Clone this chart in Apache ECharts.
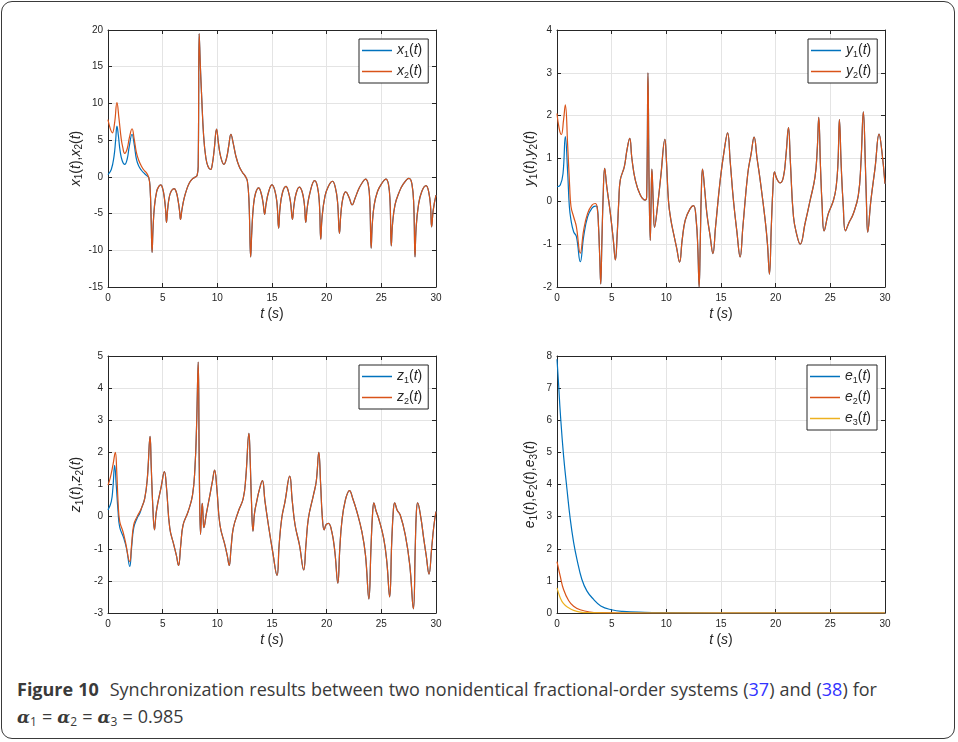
<!DOCTYPE html>
<html>
<head>
<meta charset="utf-8">
<script src="https://cdn.jsdelivr.net/npm/echarts@6/dist/echarts.min.js"></script>
<style>
  html, body { margin: 0; padding: 0; background: #fff; }
  body { width: 958px; height: 742px; position: relative; overflow: hidden; }
  #frame {
    position: absolute; left: 1px; top: 1px; width: 952px; height: 736px;
    border: 1.5px solid #3a3a3a; border-radius: 11px;
  }
  #chart { position: absolute; left: 0; top: 0; width: 958px; height: 665px; }
  #caption {
    position: absolute; left: 17px; top: 676px; width: 920px;
    font-family: "Open Sans", "Noto Sans", sans-serif; font-size: 18px;
    line-height: 27px; color: #3a3a3a; word-spacing: 0.3px;
  }
  #caption b { font-weight: 700; margin-right: 6px; }
  #caption .ref { color: #3333ff; }
  #caption .al { font-style: italic; font-weight: 700; font-family: "DejaVu Serif", serif; font-size: 17px; }
  #caption sub { font-size: 12px; vertical-align: -3px; }
</style>
</head>
<body>
<div id="frame"></div>
<div id="chart"></div>
<div id="caption">
  <b>Figure 10</b> Synchronization results between two nonidentical fractional-order systems (<span class="ref">37</span>) and (<span class="ref">38</span>) for<br>
  <span class="al">α</span><sub>1</sub> = <span class="al">α</span><sub>2</sub> = <span class="al">α</span><sub>3</sub> = 0.985
</div>
<script>
// x1, x2 differ only before ~3.6 s; after that they coincide
const x1Head = [[0,0.3],[0.3,1.0],[0.55,2.8],[0.7,5.0],[0.82,6.9],[0.95,5.6],[1.1,3.6],[1.3,2.2],[1.53,1.7],[1.75,2.4],[1.95,4.2],[2.2,5.8],[2.4,4.4],[2.6,2.4],[2.8,1.5],[3.06,0.9],[3.3,0.5],[3.52,0.2]]
const x2Head = [[0,7.8],[0.2,6.6],[0.4,6.0],[0.6,7.3],[0.82,10.1],[1.0,8.0],[1.2,5.3],[1.35,4.0],[1.53,3.2],[1.75,3.8],[1.95,5.3],[2.2,6.55],[2.4,5.1],[2.6,3.3],[2.8,2.3],[3.06,1.45],[3.3,0.9],[3.52,0.55]]
const xTail = [[3.73,-0.1],[3.85,-1.5],[3.95,-6],[4.03,-10.3],[4.12,-7],[4.25,-4],[4.45,-2],[4.65,-1.3],[4.83,-1.1],[5.0,-1.6],[5.15,-2.8],[5.27,-4.5],[5.35,-6.2],[5.45,-4.5],[5.6,-2.8],[5.8,-1.9],[6.05,-1.6],[6.25,-2.1],[6.42,-3.3],[6.55,-4.7],[6.63,-5.8],[6.75,-4.6],[6.95,-3],[7.2,-1.7],[7.45,-0.8],[7.7,-0.3],[7.95,-0.05],[8.15,0.2],[8.25,1.5],[8.34,19.5],[8.45,15],[8.55,11.5],[8.75,5.5],[8.95,2.6],[9.15,1.4],[9.38,1.0],[9.55,1.8],[9.72,3.8],[9.93,6.5],[10.1,4.6],[10.3,2.8],[10.6,1.7],[10.85,2.6],[11.05,4.3],[11.24,5.8],[11.45,4.6],[11.7,2.8],[12.0,1.4],[12.3,0.6],[12.55,0.1],[12.75,-0.6],[12.9,-3.5],[13.05,-10.9],[13.15,-7.5],[13.3,-4],[13.5,-2.2],[13.78,-1.5],[14.0,-2.2],[14.18,-3.5],[14.33,-5.1],[14.45,-3.8],[14.7,-2],[15.0,-1.1],[15.25,-1.8],[15.45,-3.5],[15.61,-7.0],[15.72,-4.5],[15.95,-2.2],[16.28,-1.3],[16.5,-2],[16.7,-3.5],[16.87,-5.8],[17.0,-4],[17.2,-2.3],[17.5,-1.4],[17.75,-2],[17.95,-3.6],[18.09,-6.2],[18.2,-4.5],[18.45,-2.3],[18.9,-0.5],[19.15,-1.3],[19.33,-3.5],[19.46,-8.5],[19.58,-5.5],[19.85,-2.6],[20.15,-1.3],[20.53,-0.6],[20.8,-1.5],[21.0,-3.5],[21.17,-7.7],[21.3,-5],[21.5,-2.8],[21.75,-2.05],[22.05,-2.8],[22.33,-3.8],[22.6,-2.9],[22.95,-1.6],[23.25,-0.8],[23.55,-0.3],[23.8,-1],[23.95,-3.5],[24.07,-9.7],[24.17,-6.5],[24.35,-3.8],[24.65,-2],[25.0,-1],[25.42,-0.3],[25.65,-1],[25.8,-3.5],[25.91,-9.4],[26.02,-6.5],[26.25,-3.8],[26.6,-2.2],[27.0,-1],[27.53,-0.2],[27.8,-1],[27.97,-4],[28.08,-10.9],[28.18,-7],[28.4,-3.8],[28.7,-2],[29.09,-1.2],[29.35,-2.2],[29.5,-4],[29.6,-6.8],[29.75,-4.5],[30,-2.5]]

const y1Head = [[0,0.34],[0.3,0.38],[0.55,0.65],[0.76,1.51],[0.98,0.65],[1.13,-0.12],[1.28,-0.44],[1.52,-0.71],[1.77,-0.82],[2.13,-1.41],[2.44,-0.82],[2.8,-0.36],[3.2,-0.16],[3.5,-0.11]]
const y2Head = [[0,2.05],[0.2,1.7],[0.4,1.56],[0.6,1.9],[0.76,2.25],[0.98,1.28],[1.16,0.34],[1.28,-0.12],[1.52,-0.36],[1.77,-0.59],[2.13,-1.21],[2.44,-0.67],[2.8,-0.28],[3.2,-0.09],[3.5,-0.05]]
const yTail = [[3.66,-0.12],[3.8,-0.6],[3.92,-1.4],[4.0,-1.93],[4.1,-1.0],[4.22,0.1],[4.36,0.77],[4.55,0.35],[4.88,-0.28],[5.15,-0.9],[5.34,-1.37],[5.5,-0.8],[5.65,0.0],[5.79,0.5],[6.16,0.81],[6.4,1.2],[6.65,1.47],[6.85,1.0],[7.16,0.5],[7.62,0.15],[8.08,0.03],[8.2,0.1],[8.32,3.0],[8.42,0.5],[8.53,-0.91],[8.6,-0.1],[8.68,0.75],[8.8,0.0],[8.92,-0.61],[9.2,-0.1],[9.5,0.6],[9.87,1.45],[10.0,1.0],[10.2,0.0],[10.42,-0.44],[10.66,-0.75],[10.95,-1.1],[11.21,-1.42],[11.45,-0.9],[11.73,-0.44],[12.18,-0.17],[12.49,-0.1],[12.73,-0.44],[12.88,-1.1],[13.0,-2.0],[13.1,-1.0],[13.2,0.2],[13.31,0.75],[13.5,0.3],[13.71,-0.29],[14.0,-0.8],[14.26,-1.22],[14.5,-0.6],[14.93,0.5],[15.3,1.2],[15.6,1.6],[15.85,0.9],[16.14,0.02],[16.45,-0.7],[16.75,-1.3],[17.0,-0.6],[17.45,0.65],[17.75,1.1],[18.03,1.5],[18.3,1.0],[18.58,0.5],[19.04,-0.44],[19.25,-1.0],[19.43,-1.7],[19.6,-0.6],[19.75,0.3],[19.89,0.69],[20.1,0.53],[20.41,0.43],[20.71,0.57],[20.95,1.1],[21.17,1.72],[21.35,0.9],[21.63,-0.36],[21.95,-0.8],[22.24,-1.0],[22.7,-0.5],[23.15,0.02],[23.6,0.57],[23.8,1.2],[23.94,1.96],[24.1,0.8],[24.25,-0.1],[24.43,-0.69],[24.8,-0.3],[25.28,0.02],[25.53,0.33],[25.7,0.9],[25.83,1.91],[26.0,0.8],[26.18,-0.1],[26.38,-0.69],[26.7,-0.5],[27.1,-0.29],[27.56,0.14],[27.8,0.9],[28.02,2.09],[28.2,0.9],[28.3,0.0],[28.42,-0.72],[28.7,0.0],[29.1,0.8],[29.46,1.57],[29.7,1.2],[30,0.41]]

const z1Head = [[0,0.21],[0.3,0.47],[0.45,0.9],[0.61,1.6],[0.75,1.0],[0.92,0.16],[1.07,-0.33],[1.44,-0.67],[1.7,-1.0],[1.99,-1.55],[2.15,-1.0],[2.35,-0.36],[2.66,-0.05],[2.9,0.1]]
const z2Head = [[0,0.98],[0.2,1.2],[0.45,1.6],[0.67,2.0],[0.8,1.4],[0.92,0.47],[1.07,-0.15],[1.37,-0.47],[1.59,-0.78],[1.99,-1.4],[2.15,-0.9],[2.35,-0.26],[2.66,0.0],[2.9,0.15]]
const zTail = [[3.06,0.26],[3.36,0.57],[3.6,1.2],[3.85,2.5],[3.95,1.6],[4.1,0.3],[4.25,-0.41],[4.4,0.1],[4.58,0.47],[4.85,0.9],[5.16,1.4],[5.35,0.9],[5.65,-0.36],[6.02,-0.88],[6.25,-1.2],[6.45,-1.52],[6.65,-0.9],[6.87,-0.26],[7.33,0.16],[7.73,0.67],[7.95,1.5],[8.1,2.8],[8.25,4.81],[8.35,1.5],[8.46,-0.55],[8.54,0.0],[8.62,0.41],[8.7,0.0],[8.77,-0.34],[9.0,0.1],[9.32,0.67],[9.55,1.1],[9.75,1.45],[9.95,0.9],[10.24,-0.26],[10.69,-0.88],[10.9,-1.2],[11.09,-1.52],[11.25,-1.0],[11.46,-0.36],[11.92,0.16],[12.37,0.57],[12.6,1.2],[12.89,2.59],[13.0,1.8],[13.12,0.5],[13.26,-0.45],[13.4,0.1],[13.6,0.47],[13.85,0.85],[14.12,1.12],[14.35,0.5],[14.67,-0.26],[15.06,-1.09],[15.46,-1.83],[15.65,-0.9],[15.89,-0.05],[16.19,0.47],[16.62,1.26],[16.85,0.5],[17.11,-0.26],[17.51,-0.88],[17.9,-1.66],[18.1,-0.9],[18.33,-0.05],[18.79,0.67],[19.05,1.1],[19.28,2.0],[19.45,1.0],[19.6,0.0],[19.77,-0.41],[19.95,-0.25],[20.16,-0.21],[20.47,-0.47],[20.75,-1.1],[21.02,-2.07],[21.2,-1.0],[21.39,-0.15],[21.7,0.5],[22.09,0.81],[22.4,0.55],[22.76,0.16],[23.22,-0.47],[23.55,-1.2],[23.86,-2.56],[24.05,-1.0],[24.2,0.1],[24.32,0.43],[24.5,0.2],[24.75,-0.05],[25.21,-0.67],[25.5,-1.4],[25.76,-2.5],[25.95,-0.8],[26.1,0.2],[26.22,0.43],[26.45,0.2],[26.73,0.05],[27.19,-0.57],[27.6,-1.5],[27.93,-2.87],[28.1,-1.0],[28.2,0.1],[28.32,0.43],[28.6,0.0],[28.87,-0.67],[29.1,-1.2],[29.36,-1.79],[29.6,-1.0],[29.8,-0.3],[30,0.16]]

const e1 = [[0,7.9],[0.15,7.1],[0.3,6.24],[0.6,4.9],[0.91,3.86],[1.21,2.93],[1.52,2.2],[1.82,1.68],[2.27,1.05],[2.73,0.69],[3.33,0.43],[4,0.22],[5,0.1],[6,0.05],[8,0.02],[10,0.01],[15,0],[30,0]]
const e2 = [[0,1.6],[0.3,1.14],[0.6,0.73],[1.06,0.39],[1.52,0.21],[2.12,0.1],[3.03,0.03],[4,0.01],[6,0],[30,0]]
const e3 = [[0,0.78],[0.3,0.47],[0.6,0.29],[1.06,0.16],[1.52,0.08],[2.12,0.03],[3,0.01],[5,0],[30,0]]

const tTicks = [0, 30, 5]
const yRanges = [[-15, 20, 5], [-2, 4, 1], [-3, 5, 1], [0, 8, 1]]

const BLUE = '#0072BD', ORANGE = '#D95319', YELLOW = '#EDB120'
const INK = '#262626'
const FONT = 'Liberation Sans'

const grids = [
  { left: 108, top: 30, width: 328, height: 257 },
  { left: 557, top: 30, width: 328, height: 257 },
  { left: 108, top: 356, width: 328, height: 257 },
  { left: 557, top: 356, width: 328, height: 257 },
]

const rich = {
  i: { fontFamily: FONT, fontStyle: 'italic', fontSize: 14, color: INK, lineHeight: 17 },
  n: { fontFamily: FONT, fontSize: 14, color: INK, lineHeight: 17 },
  s: { fontFamily: FONT, fontSize: 10, color: INK, lineHeight: 10, padding: [7, 0, 0, 0] },
}
const sym = (v, k) => `{i|${v}}{s|${k}}{n|(}{i|t}{n|)}`
const yNames = [
  sym('x', 1) + '{n|,}' + sym('x', 2),
  sym('y', 1) + '{n|,}' + sym('y', 2),
  sym('z', 1) + '{n|,}' + sym('z', 2),
  sym('e', 1) + '{n|,}' + sym('e', 2) + '{n|,}' + sym('e', 3),
]
const nameGaps = [23, 18, 23, 18]

const xAxis = [], yAxis = []
grids.forEach((g, k) => {
  const [ymin, ymax, ystep] = yRanges[k]
  xAxis.push({
    gridIndex: k, type: 'value', min: tTicks[0], max: tTicks[1], interval: tTicks[2],
    name: '{i|t} {n|(}{i|s}{n|)}', nameLocation: 'middle', nameGap: 19,
    nameTextStyle: { rich: { i: { ...rich.i, fontSize: 14 }, n: { ...rich.n, fontSize: 14 } } },
    axisLine: { show: true, onZero: false, lineStyle: { color: INK, width: 1 } },
    axisTick: { show: true, inside: true, length: 4, lineStyle: { color: INK } },
    axisLabel: { fontFamily: FONT, fontSize: 10, color: INK, margin: 6 },
    splitLine: { show: true, lineStyle: { color: '#e4e4e4', width: 1 } },
  })
  xAxis.push({
    gridIndex: k, type: 'value', position: 'top', min: tTicks[0], max: tTicks[1], interval: tTicks[2],
    axisLine: { show: true, onZero: false, lineStyle: { color: INK, width: 1 } },
    axisTick: { show: true, inside: true, length: 4, lineStyle: { color: INK } },
    axisLabel: { show: false }, splitLine: { show: false },
  })
  yAxis.push({
    gridIndex: k, type: 'value', min: ymin, max: ymax, interval: ystep,
    name: yNames[k], nameLocation: 'middle', nameGap: nameGaps[k],
    nameTextStyle: { rich },
    axisLine: { show: true, onZero: false, lineStyle: { color: INK, width: 1 } },
    axisTick: { show: true, inside: true, length: 4, lineStyle: { color: INK } },
    axisLabel: { fontFamily: FONT, fontSize: 10, color: INK, margin: 5 },
    splitLine: { show: true, lineStyle: { color: '#e4e4e4', width: 1 } },
  })
  yAxis.push({
    gridIndex: k, type: 'value', position: 'right', min: ymin, max: ymax, interval: ystep,
    axisLine: { show: true, onZero: false, lineStyle: { color: INK, width: 1 } },
    axisTick: { show: true, inside: true, length: 4, lineStyle: { color: INK } },
    axisLabel: { show: false }, splitLine: { show: false },
  })
})

function line(name, k, data, color) {
  return {
    name, type: 'line', xAxisIndex: 2 * k, yAxisIndex: 2 * k, data,
    showSymbol: false, symbol: 'none', smooth: 0.45,
    lineStyle: { color, width: 1.2 }, itemStyle: { color },
    animation: false, silent: true,
  }
}

const series = [
  line('x1', 0, x1Head.concat(xTail), BLUE),
  line('x2', 0, x2Head.concat(xTail), ORANGE),
  line('y1', 1, y1Head.concat(yTail), BLUE),
  line('y2', 1, y2Head.concat(yTail), ORANGE),
  line('z1', 2, z1Head.concat(zTail), BLUE),
  line('z2', 2, z2Head.concat(zTail), ORANGE),
  line('e1', 3, e1, BLUE),
  line('e2', 3, e2, ORANGE),
  line('e3', 3, e3, YELLOW),
]

const legendRich = {
  i: { fontFamily: FONT, fontStyle: 'italic', fontSize: 14, color: INK, lineHeight: 18 },
  n: { fontFamily: FONT, fontSize: 14, color: INK, lineHeight: 18 },
  s: { fontFamily: FONT, fontSize: 9, color: INK, lineHeight: 9, padding: [8, 0, 0, 0] },
}
function legend(names, left, top) {
  return {
    data: names, orient: 'vertical', left, top,
    padding: [3, 6, 3, 3], itemGap: 4, itemWidth: 30, itemHeight: 1.5, icon: 'rect',
    borderColor: INK, borderWidth: 1, backgroundColor: '#fff',
    formatter: (n) => sym(n[0], n[1]),
    textStyle: { rich: legendRich, padding: [0, 0, 0, 0] },
    selectedMode: false,
  }
}

const chart = echarts.init(document.getElementById('chart'))
chart.setOption({
  animation: false,
  grid: grids,
  xAxis, yAxis, series,
  legend: [
    legend(['x1', 'x2'], 359, 39),
    legend(['y1', 'y2'], 808, 39),
    legend(['z1', 'z2'], 359, 365),
    legend(['e1', 'e2', 'e3'], 807, 365),
  ],
})
</script>
</body>
</html>
